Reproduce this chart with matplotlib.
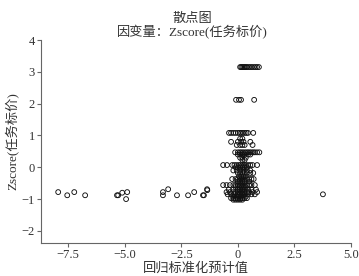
import matplotlib
matplotlib.use("Agg")
import matplotlib.pyplot as plt

plt.rcParams['font.family'] = ['Liberation Serif', 'Noto Sans CJK SC']
plt.rcParams['axes.unicode_minus'] = True

title = "散点图"
subtitle = "因变量：Zscore(任务标价)"
xlabel = "回归标准化预计值"
ylabel = "Zscore(任务标价)"
xticks = [-7.5, -5.0, -2.5, 0.0, 2.5, 5.0]
yticks = [-2, -1, 0, 1, 2, 3, 4]

# outlying points (predicted value, zscore)
outlier_x = [-7.94, -7.54, -7.23, -6.75, -5.34, -5.29, -5.11, -4.89, -4.94,
             -3.31, -3.31, -3.08, -2.69, -2.20, -1.93, -1.54, -1.36,
             -1.50, -1.35, 3.76]
outlier_y = [-0.78, -0.88, -0.78, -0.88, -0.88, -0.88, -0.80, -0.78, -1.00,
             -0.88, -0.78, -0.69, -0.88, -0.88, -0.78, -0.88, -0.69,
             -0.88, -0.72, -0.85]

# dense cluster: one zscore level per row, with the predicted values on it
row_y = [3.15, 2.12, 1.08, 0.90, 0.80, 0.70, 0.47, 0.40, 0.30, 0.23, 0.07,
         0.00, -0.10, -0.18, -0.28, -0.37, -0.45, -0.56, -0.62, -0.70, -0.78,
         -0.85, -0.92, -0.97, -1.02]
row_x = [
    [0.10, 0.15, 0.20, 0.25, 0.30, 0.35, 0.40, 0.47, 0.55, 0.62, 0.70, 0.78, 0.85, 0.93],
    [-0.08, 0.05, 0.14, 0.72],
    [-0.39, -0.30, -0.20, -0.10, 0.00, 0.08, 0.15, 0.22, 0.30, 0.38, 0.45, 0.68],
    [0.10, 0.20],
    [-0.30, 0.00, 0.15, 0.25, 0.55],
    [-0.05, 0.10, 0.20, 0.30, 0.65],
    [-0.12, 0.00, 0.08, 0.15, 0.22, 0.30, 0.38, 0.45, 0.52, 0.60, 0.68, 0.75, 0.85, 0.95],
    [0.00, 0.10, 0.20, 0.30, 0.45, 0.55],
    [0.10, 0.20, 0.35],
    [0.20, 0.30],
    [-0.65, -0.48, -0.25, -0.15, -0.05, 0.05, 0.12, 0.20, 0.28, 0.35, 0.45, 0.55, 0.65, 0.85],
    [-0.10, 0.00, 0.10, 0.20, 0.30, 0.40],
    [-0.20, -0.05, 0.10, 0.25, 0.40, 0.55],
    [0.00, 0.10, 0.20, 0.30, 0.40, 0.55, 0.68],
    [0.05, 0.15, 0.25, 0.35],
    [-0.25, -0.10, 0.00, 0.08, 0.15, 0.22, 0.30, 0.40, 0.50, 0.60, 0.70],
    [0.00, 0.10, 0.20, 0.30, 0.50],
    [-0.65, -0.50, -0.35, -0.20, -0.10, 0.00, 0.08, 0.15, 0.22, 0.30, 0.40, 0.50, 0.60, 0.75],
    [-0.10, 0.05, 0.15, 0.25, 0.35],
    [-0.40, -0.20, 0.00, 0.10, 0.20, 0.30, 0.45, 0.60, 0.80],
    [-0.50, -0.35, -0.20, -0.10, 0.00, 0.08, 0.15, 0.22, 0.30, 0.40, 0.50, 0.65, 0.85],
    [-0.45, -0.30, -0.15, 0.00, 0.10, 0.20, 0.30, 0.45, 0.60, 0.75],
    [-0.20, -0.05, 0.05, 0.15, 0.25, 0.35],
    [-0.30, -0.20, -0.10, 0.00, 0.10, 0.20, 0.30, 0.40],
    [-0.20, -0.10, 0.00, 0.10, 0.20],
]

fig = plt.figure(figsize=(3.59, 2.76), dpi=100)
ax = fig.add_axes([0.1142, 0.1196, 0.8635, 0.7354])

pts_x = list(outlier_x)
pts_y = list(outlier_y)
for yv, xs in zip(row_y, row_x):
    pts_x += xs
    pts_y += [yv] * len(xs)

ax.scatter(pts_x, pts_y, s=12, facecolors='none', edgecolors='#111111',
           linewidths=0.65)

ax.set_xlim(-8.7, 5.0)
ax.set_ylim(-2.38, 4.0)
ax.set_xticks(xticks)
ax.set_xticklabels(["\u22127.5", "\u22125.0", "\u22122.5", "0", "2.5", "5.0"])
ax.set_yticks(yticks)
ax.set_yticklabels(["\u22122", "\u22121", "0", "1", "2", "3", "4"])

for s in ['top', 'right']:
    ax.spines[s].set_visible(False)
for s in ['left', 'bottom']:
    ax.spines[s].set_color('#666666')
    ax.spines[s].set_linewidth(0.8)
ax.tick_params(axis='both', colors='#666666', labelcolor='#333333',
               length=3, width=0.8, labelsize=9, pad=1.5)

ax.set_xlabel(xlabel, fontsize=9.5, color='#333333', labelpad=1)
ax.set_ylabel(ylabel, fontsize=9.5, color='#333333', labelpad=2)

fig.text(0.535, 0.932, title, ha='center', va='center', fontsize=9.5, color='#333333')
fig.text(0.535, 0.882, subtitle, ha='center', va='center', fontsize=9.5, color='#333333')

fig.savefig("out.png", dpi=100)
